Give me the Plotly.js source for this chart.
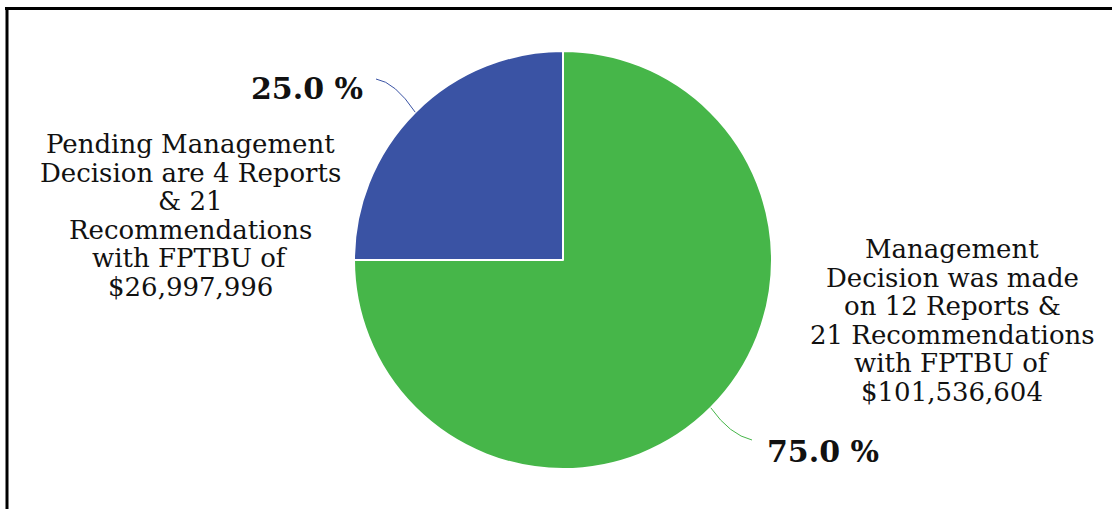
<!DOCTYPE html>
<html>
<head>
<meta charset="utf-8">
<script src="https://cdn.plot.ly/plotly-3.0.1.min.js"></script>
<style>html,body{margin:0;padding:0;background:#fff;}#chart{width:1112px;height:509px;}</style>
</head>
<body>
<div id="chart"></div>
<script>
// Data
const categories = ["Pending Management Decision", "Management Decision was made"];
const values = [25.0, 75.0];
const pctLabels = ["25.0 %", "75.0 %"];
const descLines = [
  ["Pending Management", "Decision are 4 Reports", "&amp; 21", "Recommendations", "with FPTBU of", "$26,997,996"],
  ["Management", "Decision was made", "on 12 Reports &amp;", "21 Recommendations", "with FPTBU of", "$101,536,604"]
];
const colors = ["#3a53a4", "#46b649"];

const W = 1112, H = 509;
const cx = 563, cy = 260, R = 209;
const px = x => x / W;
const py = y => 1 - y / H;
const ROT = -90; // first slice starts at 9 o'clock, going clockwise

// slice mid angles (clockwise from 12 o'clock, degrees)
const total = values.reduce((a, b) => a + b, 0);
let acc = 0;
const mids = values.map(v => { const m = ROT + (acc + v / 2) / total * 360; acc += v; return m; });
const edge = mids.map(d => {
  const a = d * Math.PI / 180;
  return [cx + R * Math.sin(a), cy - R * Math.cos(a)];
});

const ff = "DejaVu Serif, Liberation Serif, serif";

const data = [{
  type: "pie",
  labels: categories,
  values: values,
  sort: false,
  direction: "clockwise",
  rotation: ROT,
  textinfo: "none",
  hoverinfo: "label+percent",
  marker: {colors: colors, line: {color: "#ffffff", width: 2}},
  domain: {x: [px(cx - R), px(cx + R)], y: [py(cy + R), py(cy - R)]},
  showlegend: false
}];

const e0 = edge[0], e1 = edge[1];
const shapes = [
  {type: "line", xref: "paper", yref: "paper", x0: px(5), x1: px(1112), y0: py(8.5), y1: py(8.5), line: {color: "#000", width: 3}},
  {type: "line", xref: "paper", yref: "paper", x0: px(7), x1: px(7), y0: py(7), y1: py(509), line: {color: "#000", width: 3}},
  {type: "path", xref: "paper", yref: "paper",
   path: `M ${px(e0[0])} ${py(e0[1])} Q ${px(e0[0]-20)} ${py(e0[1]-30)} ${px(376)} ${py(79)}`,
   line: {color: colors[0], width: 1}},
  {type: "path", xref: "paper", yref: "paper",
   path: `M ${px(e1[0])} ${py(e1[1])} Q ${px(e1[0]+19)} ${py(e1[1]+27)} ${px(752)} ${py(440)}`,
   line: {color: colors[1], width: 1}}
];

const annotations = [
  {xref: "paper", yref: "paper", x: px(307), y: py(89), text: "<b>" + pctLabels[0] + "</b>", showarrow: false,
   font: {family: ff, size: 30, color: "#111"}, xanchor: "center", yanchor: "middle"},
  {xref: "paper", yref: "paper", x: px(823), y: py(451), text: "<b>" + pctLabels[1] + "</b>", showarrow: false,
   font: {family: ff, size: 30, color: "#111"}, xanchor: "center", yanchor: "middle"}
];
const blockPos = [[190, 144], [952, 249]];
const lineGap = 28.6;
descLines.forEach((lines, b) => {
  lines.forEach((t, i) => {
    annotations.push({xref: "paper", yref: "paper", x: px(blockPos[b][0]), y: py(blockPos[b][1] + i * lineGap),
      text: t, showarrow: false, font: {family: ff, size: 26, color: "#111"},
      xanchor: "center", yanchor: "middle", align: "center"});
  });
});

const layout = {
  width: W, height: H,
  margin: {l: 0, r: 0, t: 0, b: 0},
  paper_bgcolor: "#fff",
  shapes: shapes,
  annotations: annotations
};

Plotly.newPlot("chart", data, layout, {displayModeBar: false, staticPlot: true});
</script>
</body>
</html>
